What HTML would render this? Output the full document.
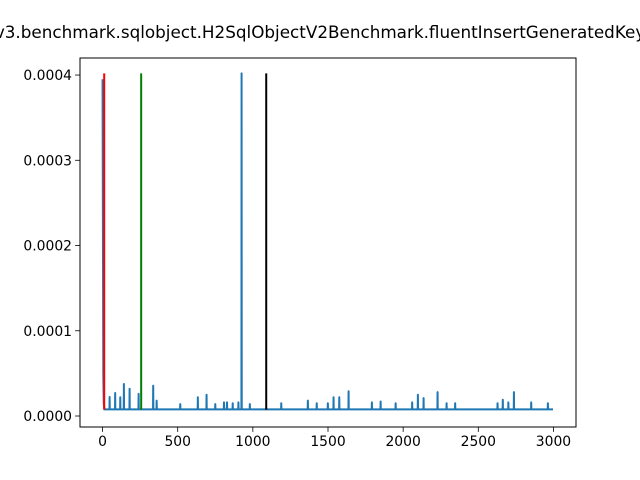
<!DOCTYPE html>
<html><head><meta charset="utf-8"><style>body{margin:0;background:#fff}svg{display:block}text{font-family:"DejaVu Sans","Liberation Sans",sans-serif}</style></head>
<body>
<svg id="chart" width="640" height="480">
<text x="654" y="38" text-anchor="end" font-size="16.8" fill="#000">jmh.v3.benchmark.sqlobject.H2SqlObjectV2Benchmark.fluentInsertGeneratedKeys</text>
<g id="plot"></g>
<rect x="80" y="58" width="496" height="369" fill="none" stroke="#000" stroke-width="1"/>
</svg>
<script>
const xTicks=[0,500,1000,1500,2000,2500,3000];
const yTicks=[0,0.0001,0.0002,0.0003,0.0004];
const yTickLabels=["0.0000","0.0001","0.0002","0.0003","0.0004"];
const baseline=0.0000078;
const headX=[0,2,5,8,12];
const headY=[0.000395,0.00025,0.00005,0.000015,0.0000078];
const spikeX=[47,84,118,142,180,240,337,360,517,634,692,750,808,828,866,904,925,980,1189,1366,1425,1499,1537,1575,1637,1792,1850,1950,2060,2098,2136,2229,2289,2346,2628,2663,2700,2737,2852,2963];
const spikeY=[0.0000223,0.000027,0.000022,0.0000375,0.000032,0.000026,0.0000355,0.000018,0.000014,0.000022,0.000025,0.000014,0.000016,0.000016,0.000015,0.000016,0.000402,0.000014,0.000015,0.000018,0.000015,0.000015,0.000022,0.000022,0.000029,0.000016,0.000017,0.000015,0.000016,0.000025,0.000021,0.000028,0.000015,0.000015,0.000015,0.000019,0.000016,0.000028,0.000016,0.000015];
const lastX=2997;
const vlineX=[11,257,1089];
const vlineColors=["#ff0000","#008000","#000000"];
const vMin=0.0000075, vMax=0.000402;

const X0=80,X1=576,Y0=58,Y1=427;
const xMin=-150,xMax=3150,yMin=-0.0000129,yMax=0.0004200;
const sx=v=>X0+(v-xMin)/(xMax-xMin)*(X1-X0);
const sy=v=>Y1-(v-yMin)/(yMax-yMin)*(Y1-Y0);
const NS="http://www.w3.org/2000/svg";
const g=document.getElementById('plot');
function mk(t,a){const e=document.createElementNS(NS,t);for(const k in a)e.setAttribute(k,a[k]);g.appendChild(e);return e;}

xTicks.forEach(v=>{
  const l=mk('line',{x1:sx(v),x2:sx(v),y1:Y1,y2:Y1+4.9,stroke:'#000','stroke-width':0.8});
  
  
  const t=mk('text',{x:sx(v),y:Y1+19,'text-anchor':'middle','font-size':13.9,fill:'#000'});
  t.textContent=v;
  
  
});
yTicks.forEach((v,i)=>{
  const l=mk('line',{x1:X0-4.9,x2:X0,y1:sy(v),y2:sy(v),stroke:'#000','stroke-width':0.8});
  
  
  const t=mk('text',{x:X0-8,y:sy(v)+5,'text-anchor':'end','font-size':13.9,fill:'#000'});
  t.textContent=yTickLabels[i];
  
  
});

let pts=[];
headX.forEach((x,i)=>pts.push([x,headY[i]]));
spikeX.forEach((x,i)=>{pts.push([x-1,baseline]);pts.push([x,spikeY[i]]);pts.push([x+1,baseline]);});
pts.push([lastX,baseline]);
const d=pts.map((p,i)=>(i?'L':'M')+sx(p[0]).toFixed(2)+','+sy(p[1]).toFixed(2)).join(' ');
const path=mk('path',{d:d,fill:'none',stroke:'#1f77b4','stroke-width':2,'stroke-linejoin':'round'});



vlineX.forEach((x,i)=>{
  const l=mk('line',{x1:sx(x),x2:sx(x),y1:sy(vMin),y2:sy(vMax),stroke:vlineColors[i],'stroke-width':2});
  
  
});
</script>
</body></html>
